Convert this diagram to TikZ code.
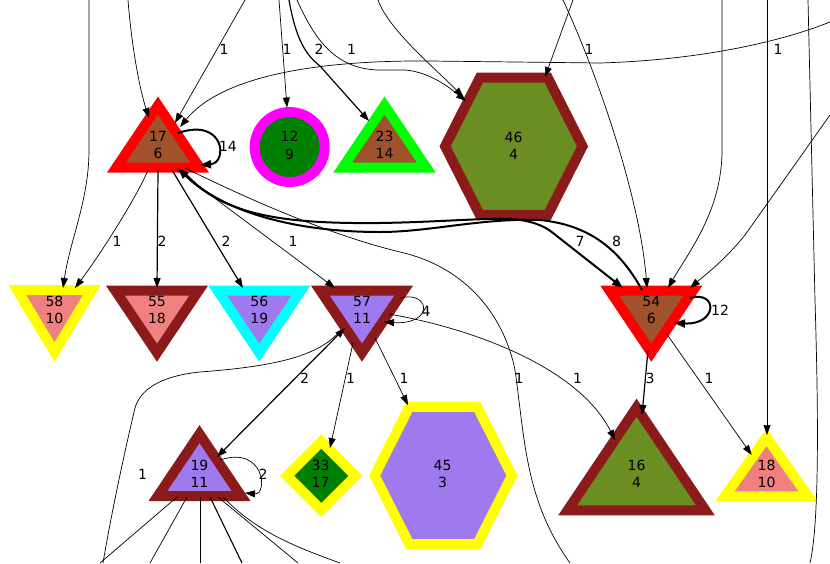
\documentclass[tikz,border=0pt]{standalone}
\usepackage{fontspec}
\setmainfont{DejaVu Sans}
\usetikzlibrary{arrows.meta,calc}
\pgfdeclarelayer{bg}
\pgfsetlayers{bg,main}
\definecolor{cred}{HTML}{FF0000}
\definecolor{csienna}{HTML}{A0522D}
\definecolor{cmag}{HTML}{FF00FF}
\definecolor{cgreen}{HTML}{008000}
\definecolor{clime}{HTML}{00FF00}
\definecolor{cdred}{HTML}{8B1A1A}
\definecolor{colive}{HTML}{6B8E23}
\definecolor{cyel}{HTML}{FFFF00}
\definecolor{ccoral}{HTML}{F08080}
\definecolor{cpurp}{HTML}{9F79EE}
\definecolor{ccyan}{HTML}{00FFFF}
\tikzset{
  lbl/.style={font=\fontsize{14}{17.3}\selectfont, align=center, inner sep=0pt},
  elbl/.style={font=\fontsize{14}{17}\selectfont, inner sep=0pt},
  shp/.style={line width=10pt, line join=miter},
  tipa/.tip={Triangle[length=10pt,width=7pt]},
  e/.style={line width=0.7pt, draw=black, -tipa},
  en/.style={line width=0.7pt, draw=black},
  em/.style={line width=1.2pt, draw=black, -tipa},
  ethick/.style={line width=2pt, draw=black, -{Triangle[length=11pt,width=8pt]}},
}
\newcommand\gtri[6]{\begin{pgfonlayer}{bg}\draw[shp,draw=#2,fill=#3] ($(#1)+(0,#4)$) -- ($(#1)+(#6,#5)$) -- ($(#1)+(-#6,#5)$) -- cycle;\end{pgfonlayer}}
\newcommand\ghex[5]{\begin{pgfonlayer}{bg}\draw[shp,draw=#2,fill=#3] ($(#1)+(#4,#5)+(-68.7,0)$) -- ($(#1)+(#4,#5)+(-34,-68.6)$) -- ($(#1)+(#4,#5)+(34,-68.6)$) -- ($(#1)+(#4,#5)+(68.7,0)$) -- ($(#1)+(#4,#5)+(34,68.6)$) -- ($(#1)+(#4,#5)+(-34,68.6)$) -- cycle;\end{pgfonlayer}}
\begin{document}
\begin{tikzpicture}[x=1pt,y=-1pt]
\useasboundingbox (0,0) rectangle (830,563);
\begin{pgfonlayer}{bg}
\fill[white] (0,0) rectangle (830,563);
\end{pgfonlayer}
\clip (0,0) rectangle (830,563);

% ---------- nodes ----------
\node[lbl] (n17) at (158,145) {17\\6};
\gtri{n17}{cred}{csienna}{-39.5}{22.5}{41.6}
\node[lbl] (n12) at (289.5,145.5) {12\\9};
\begin{pgfonlayer}{bg}\draw[shp,draw=cmag,fill=cgreen] ($(n12)+(0.2,1.5)$) circle[radius=35];\end{pgfonlayer}
\node[lbl] (n23) at (384.5,145) {23\\14};
\gtri{n23}{clime}{csienna}{-39.5}{22.5}{41.8}
\node[lbl] (n46) at (513.5,145.5) {46\\4};
\ghex{n46}{cdred}{colive}{0.3}{0.8}

\node[lbl] (n58) at (54.5,310) {58\\10};
\gtri{n58}{cyel}{ccoral}{42}{-20}{37.3}
\node[lbl] (n55) at (157,310) {55\\18};
\gtri{n55}{cdred}{ccoral}{42.7}{-19.3}{41.6}
\node[lbl] (n56) at (259.3,310) {56\\19};
\gtri{n56}{ccyan}{cpurp}{42.7}{-19.3}{41.6}
\node[lbl] (n57) at (362,310) {57\\11};
\gtri{n57}{cdred}{cpurp}{42.7}{-19.3}{41.6}
\node[lbl] (n54) at (651.3,310) {54\\6};
\gtri{n54}{cred}{csienna}{42.7}{-19.3}{41.6}

\node[lbl] (n19) at (199.5,474) {19\\11};
\gtri{n19}{cdred}{cpurp}{-40}{22}{41.6}
\node[lbl] (n33) at (320.5,474) {33\\17};
\begin{pgfonlayer}{bg}\draw[shp,draw=cyel,fill=cgreen] ($(n33)+(0.8,1.8)+(0,-34.3)$) -- ($(n33)+(0.8,1.8)+(34.3,0)$) -- ($(n33)+(0.8,1.8)+(0,34.3)$) -- ($(n33)+(0.8,1.8)+(-34.3,0)$) -- cycle;\end{pgfonlayer}
\node[lbl] (n45) at (442.5,474) {45\\3};
\ghex{n45}{cyel}{cpurp}{0.8}{1.5}
\node[lbl] (n16) at (636.5,474) {16\\4};
\gtri{n16}{cdred}{colive}{-66.4}{36.3}{68.9}
\node[lbl] (n18) at (766.5,474) {18\\10};
\gtri{n18}{cyel}{ccoral}{-36.7}{22.3}{41.6}

% ---------- free ends ----------
\coordinate (fa) at (89,0);
\coordinate (fb) at (128,0);
\coordinate (fc) at (245,0);
\coordinate (fd) at (830,22);
\coordinate (fe) at (279,0);
\coordinate (ff) at (289,0);
\coordinate (fg) at (297,0);
\coordinate (fh) at (378,0);
\coordinate (fi) at (573,0);
\coordinate (fj) at (563,0);
\coordinate (fk) at (722,0);
\coordinate (fl) at (767,0);
\coordinate (fm) at (808,0);
\coordinate (fmb) at (810,563);
\coordinate (fn) at (830,115);
\coordinate (fo) at (570,563);
\coordinate (fp) at (103,563);
\coordinate (fq1) at (100,563);
\coordinate (fq2) at (150,563);
\coordinate (fq3) at (200,563);
\coordinate (fq4) at (242,563);
\coordinate (fq5) at (298,563);
\coordinate (fq6) at (340,563);

% ---------- edges from above ----------
\draw[e] (fa) -- (89,150) .. controls (89,200) and (70,240) .. ($(n58)+(8.5,-22)$);
\draw[e] (fb) .. controls (132,50) and (140,90) .. ($(n17)+(-9,-27)$);
\draw[e] (fc) -- ($(n17)+(17,-22)$);
\draw[e] (fd) .. controls (780,42) and (700,60) .. (600,63) -- (430,61) .. controls (310,60) and (220,78) .. ($(n17)+(22,-18)$);
\draw[e] (fe) -- ($(n12)+(-2.5,-38)$);
\draw[em] (ff) .. controls (296,40) and (306,55) .. (320,66) -- ($(n23)+(-15.5,-24)$);
\draw[e] (fg) .. controls (315,40) and (335,68) .. (377,70) -- (405,70) .. controls (430,72) and (450,88) .. ($(n46)+(-47.5,-44.5)$);
\draw[e] (fh) .. controls (388,28) and (428,62) .. ($(n46)+(-50,-48.5)$);
\draw[e] (fi) -- ($(n46)+(31.5,-68.5)$);
\draw[e] (fj) .. controls (600,80) and (640,200) .. ($(n54)+(-4.3,-22)$);
\draw[e] (fk) -- (722,150) .. controls (722,210) and (690,250) .. ($(n54)+(16.7,-22)$);
\draw[e] (fl) -- ($(n18)+(0.5,-39)$);
\draw[en] (fm) -- (815,300) .. controls (818,400) and (820,520) .. (fmb);
\draw[e] (fn) -- (745,235) .. controls (725,260) and (705,275) .. ($(n54)+(38.7,-22)$);

% ---------- 17 ----------
\draw[ethick] ($(n17)+(20,-12)$) .. controls (225,117) and (228,163) .. ($(n17)+(42,20)$);
\draw[ethick] ($(n17)+(24,25)$) .. controls (220,215) and (280,224) .. (380,223) .. controls (440,222) and (480,218) .. (510,219) .. controls (530,220) and (545,226) .. (553,233) -- ($(n54)+(-28.3,-22)$);
\draw[ethick] ($(n54)+(-9.3,-20)$) .. controls (620,250) and (590,225) .. (540,220) .. controls (480,218) and (430,232) .. (380,232) .. controls (280,232) and (215,205) .. ($(n17)+(20,23)$);
\draw[e] ($(n17)+(-10,25)$) .. controls (138,195) and (100,255) .. ($(n58)+(20.5,-22)$);
\draw[em] ($(n17)+(0,25)$) -- ($(n55)+(0,-22)$);
\draw[em] ($(n17)+(14,25)$) -- ($(n56)+(-16.3,-22)$);
\draw[e] ($(n17)+(19,25)$) -- ($(n57)+(-27,-22)$);
\draw[en] ($(n17)+(27,23)$) .. controls (250,200) and (330,235) .. (400,252) .. controls (470,268) and (505,320) .. (515,370) .. controls (525,440) and (525,500) .. (fo);

% ---------- 57 ----------
\draw[e] ($(n57)+(38,-12)$) .. controls (430,290) and (435,325) .. ($(n57)+(22,12)$);
\draw[e] ($(n57)+(27,4)$) .. controls (480,330) and (580,370) .. ($(n16)+(-21.5,-34)$);
\draw[e] ($(n57)+(-9,33)$) -- ($(n33)+(9.5,-26)$);
\draw[e] ($(n57)+(13,28)$) -- ($(n45)+(-34.5,-69)$);
\draw[em, tipa-tipa] ($(n19)+(17.5,-17)$) -- ($(n57)+(-17,18)$);
\draw[en] ($(n57)+(-21,20)$) .. controls (320,355) and (280,366) .. (200,372) .. controls (160,376) and (140,390) .. (135,408) .. controls (125,450) and (112,510) .. (fp);

% ---------- 19 ----------
\draw[e] ($(n19)+(20.5,-14)$) .. controls (265,445) and (268,495) .. ($(n19)+(45.5,19)$);
\draw[en] ($(n19)+(-22.5,23)$) -- (fq1);
\draw[en] ($(n19)+(-12.5,23)$) -- (fq2);
\draw[en] ($(n19)+(0.5,23)$) -- (fq3);
\draw[en, line width=1.1pt] ($(n19)+(10.5,23)$) -- (fq4);
\draw[en] ($(n19)+(18.5,23)$) -- (fq5);
\draw[en] ($(n19)+(23.5,23)$) .. controls (255,530) and (290,545) .. (fq6);

% ---------- 54 ----------
\draw[ethick] ($(n54)+(38.7,-12)$) .. controls (718,290) and (718,325) .. ($(n54)+(22.7,13)$);
\draw[em] ($(n54)+(-3.3,40)$) -- ($(n16)+(5.5,-59)$);
\draw[e] ($(n54)+(14.7,23)$) -- ($(n18)+(-14.8,-19)$);

% ---------- edge labels ----------
\node[elbl] (l1) at (224,49) {1};
\node[elbl] (l2) at (287,49) {1};
\node[elbl] (l3) at (319,49) {2};
\node[elbl] (l4) at (351.5,49) {1};
\node[elbl] (l5) at (589,49) {1};
\node[elbl] (l6) at (778,49) {1};
\node[elbl] (l7) at (228,146) {14};
\node[elbl] (l8) at (117,241) {1};
\node[elbl] (l9) at (162,241) {2};
\node[elbl] (l10) at (226,241) {2};
\node[elbl] (l11) at (293,241) {1};
\node[elbl] (l12) at (580,241) {7};
\node[elbl] (l13) at (616.5,241) {8};
\node[elbl] (l14) at (426,311) {4};
\node[elbl] (l15) at (720,310) {12};
\node[elbl] (l16) at (304.5,378) {2};
\node[elbl] (l17) at (350.5,378) {1};
\node[elbl] (l18) at (404,378) {1};
\node[elbl] (l19) at (519,378) {1};
\node[elbl] (l20) at (577.5,378) {1};
\node[elbl] (l21) at (650,378) {3};
\node[elbl] (l22) at (709,378) {1};
\node[elbl] (l23) at (142.5,474) {1};
\node[elbl] (l24) at (263,474) {2};
\end{tikzpicture}
\end{document}
